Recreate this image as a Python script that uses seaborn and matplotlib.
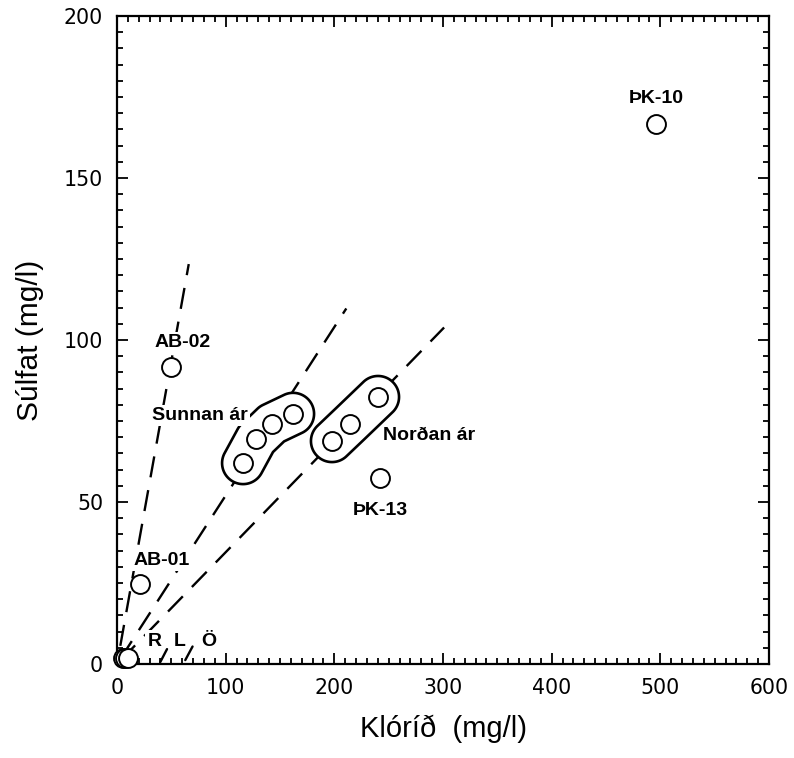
import numpy as np
import pandas as pd
import matplotlib
matplotlib.use("Agg")
import matplotlib.pyplot as plt
from matplotlib.ticker import MultipleLocator
import seaborn as sns

# Individual wells / springs: chloride and sulfate (mg/l)
site_names = ["ÞK-10", "AB-02", "AB-01", "ÞK-13", "R", "L", "Ö"]
site_chloride = [496, 49.7, 21.2, 242, 5.5, 7.5, 10.5]
site_sulfate = [166.7, 91.7, 24.7, 57.4, 2, 2, 2]

# Grouped samples south and north of the river
south_chloride = [116, 128, 142.6, 162]
south_sulfate = [62.0, 69.4, 74.1, 77.2]
north_chloride = [197.8, 214.4, 240.2]
north_sulfate = [68.8, 74.1, 82.4]
group_names = ["Sunnan ár", "Norðan ár"]

# Reference mixing lines: sulfate/chloride ratio and chloride range
ratio_slopes = [1.87, 0.52, 0.345]
ratio_x_start = [3, 3, 3]
ratio_x_end = [66, 211, 301]

# Label anchors (chloride, sulfate) for the annotation text
site_label_x = [496, 60.3, 41, 242, 34.5, 57.5, 84.2]
site_label_y = [173.1, 97.8, 30.6, 46.0, 5.7, 5.7, 5.7]
group_label_x = [75.9, 287]
group_label_y = [75.3, 69.1]

# Short leaders below R and L
leader_x0 = [39.8, 62.8]
leader_y0 = [0.6, 1.2]
leader_x1 = [46.0, 69.5]
leader_y1 = [4.6, 5.4]

sns.set_theme(style="ticks")
plt.rcParams["font.family"] = ["DejaVu Sans"]
plt.rcParams.update({
    "text.color": "black",
    "axes.labelcolor": "black",
    "xtick.color": "black",
    "ytick.color": "black",
    "axes.edgecolor": "black",
})

fig = plt.figure(figsize=(7.94, 7.58), dpi=100)
ax = fig.add_axes([0.1474, 0.124, 0.8211, 0.855])

ax.set_xlim(0, 600)
ax.set_ylim(0, 200)

# Dashed ratio lines
for slope, x0, x1 in zip(ratio_slopes, ratio_x_start, ratio_x_end):
    xx = np.array([x0, x1], dtype=float)
    ax.plot(xx, slope * xx, color="black", lw=1.7,
            linestyle=(0, (9, 5.5)), solid_capstyle="butt", zorder=2)

for a, b, c, d in zip(leader_x0, leader_y0, leader_x1, leader_y1):
    ax.plot([a, c], [b, d], color="black", lw=1.7, zorder=2)


def draw_envelope(xs, ys, radius_px):
    """Closed white-filled outline at a fixed pixel distance around a chain of samples."""
    pts = ax.transData.transform(np.column_stack([xs, ys]))
    gx = np.linspace(min(xs) - 40, max(xs) + 40, 400)
    gy = np.linspace(min(ys) - 20, max(ys) + 20, 400)
    X, Y = np.meshgrid(gx, gy)
    disp = ax.transData.transform(np.column_stack([X.ravel(), Y.ravel()]))
    dist = np.full(len(disp), np.inf)
    for p0, p1 in zip(pts[:-1], pts[1:]):
        seg = p1 - p0
        t = np.clip(((disp - p0) @ seg) / (seg @ seg), 0, 1)
        proj = p0 + t[:, None] * seg
        dist = np.minimum(dist, np.hypot(*(disp - proj).T))
    D = dist.reshape(X.shape)
    ax.contourf(X, Y, D, levels=[-1, radius_px], colors="white", zorder=3)
    ax.contour(X, Y, D, levels=[radius_px],
               colors="black", linewidths=1.9, zorder=3.1)


draw_envelope(south_chloride, south_sulfate, 21)
draw_envelope(north_chloride, north_sulfate, 21)

points = pd.DataFrame({
    "chloride": site_chloride + south_chloride + north_chloride,
    "sulfate": site_sulfate + south_sulfate + north_sulfate,
})
sns.scatterplot(data=points, x="chloride", y="sulfate", ax=ax,
                marker="o", s=185, facecolor="white", edgecolor="black",
                linewidth=1.4, zorder=4, clip_on=False)

label_font = ["Liberation Sans", "DejaVu Sans"]
box = dict(facecolor="white", edgecolor="none", pad=1.5)
for name, lx, ly in zip(site_names, site_label_x, site_label_y):
    ax.text(lx, ly, name, ha="center", va="baseline", fontsize=14,
            fontweight="bold", family=label_font, zorder=5, bbox=box)
for name, lx, ly in zip(group_names, group_label_x, group_label_y):
    ax.text(lx, ly, name, ha="center", va="baseline", fontsize=14,
            fontweight="bold", family=label_font, zorder=5, bbox=box)

ax.xaxis.set_major_locator(MultipleLocator(100))
ax.xaxis.set_minor_locator(MultipleLocator(10))
ax.yaxis.set_major_locator(MultipleLocator(50))
ax.yaxis.set_minor_locator(MultipleLocator(5))
ax.tick_params(which="both", direction="in", top=True, right=True,
               color="black", width=1.3)
ax.tick_params(which="major", length=8, labelsize=14.8, pad=10)
ax.tick_params(which="minor", length=4.5)

for spine in ax.spines.values():
    spine.set_linewidth(1.6)
    spine.set_color("black")

ax.set_xlabel("Klóríð  (mg/l)", fontsize=21, family=label_font, labelpad=12)
ax.set_ylabel("Súlfat (mg/l)", fontsize=21.5, family=label_font, labelpad=14)

fig.savefig("out.png", dpi=100, facecolor="white")
